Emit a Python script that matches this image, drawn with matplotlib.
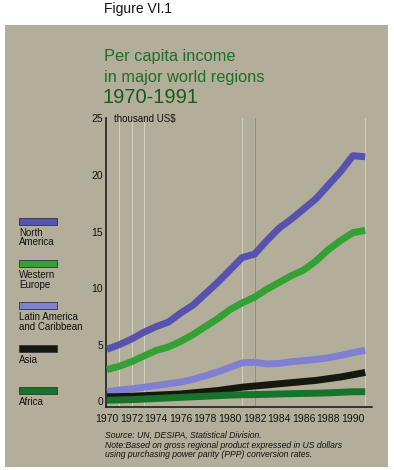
import matplotlib
matplotlib.use('Agg')
from matplotlib import pyplot as plt
from matplotlib.patches import Rectangle

plt.rcParams['font.family'] = ['Liberation Sans', 'DejaVu Sans']

# data (thousand US$, PPP)
years = list(range(1970, 1992))
north_america = [4.6, 5.0, 5.5, 6.1, 6.6, 7.0, 7.8, 8.5, 9.5, 10.5, 11.6,
                 12.7, 13.0, 14.2, 15.3, 16.1, 17.0, 17.9, 19.1, 20.3, 21.7, 21.6]
western_europe = [2.8, 3.1, 3.5, 4.0, 4.5, 4.8, 5.3, 5.9, 6.6, 7.3, 8.1,
                  8.7, 9.2, 9.9, 10.5, 11.1, 11.6, 12.4, 13.4, 14.2, 14.9, 15.1]
latin_america = [0.85, 1.0, 1.1, 1.25, 1.4, 1.55, 1.7, 1.95, 2.25, 2.6, 3.0,
                 3.4, 3.45, 3.3, 3.35, 3.5, 3.6, 3.7, 3.85, 4.05, 4.3, 4.5]
asia = [0.4, 0.42, 0.45, 0.5, 0.55, 0.6, 0.65, 0.75, 0.85, 0.95, 1.1,
        1.25, 1.35, 1.45, 1.55, 1.65, 1.75, 1.85, 2.0, 2.15, 2.35, 2.55]
africa = [0.1, 0.12, 0.15, 0.2, 0.25, 0.3, 0.35, 0.4, 0.45, 0.5, 0.55,
          0.58, 0.6, 0.62, 0.65, 0.68, 0.7, 0.72, 0.75, 0.8, 0.85, 0.85]

series = [north_america, western_europe, latin_america, asia, africa]
labels = ['North\nAmerica', 'Western\nEurope', 'Latin America\nand Caribbean', 'Asia', 'Africa']
colors = ['#5752b0', '#33a133', '#8080d2', '#15180f', '#16742a']
xticks = list(range(1970, 1991, 2))
yticks = [0, 5, 10, 15, 20, 25]

W, H = 394, 470
fig = plt.figure(figsize=(W / 100, H / 100), dpi=100)
fig.patch.set_facecolor('white')

# grey-khaki panel
fig.patches.append(Rectangle((5 / W, 3 / H), 383 / W, 442 / H, transform=fig.transFigure,
                             facecolor='#b3ae9a', edgecolor='none', zorder=-5))

fig.text(104 / W, 1 - 13.5 / H, 'Figure VI.1', fontsize=10, color='#111111', va='baseline')
fig.text(104 / W, 1 - 61 / H, 'Per capita income', fontsize=11.8, color='#1f6d2a',
         va='baseline')
fig.text(104 / W, 1 - 82 / H, 'in major world regions', fontsize=11.8, color='#1f6d2a',
         va='baseline')
fig.text(103 / W, 1 - 103 / H, '1970-1991', fontsize=14.5, color='#175a1e',
         va='baseline')

ax = fig.add_axes([105.7 / W, 63 / H, (372 - 105.7) / W, (407 - 118.3) / H])
ax.set_facecolor('none')
ax.set_zorder(1)

# faint vertical rules seen in the original
for yr in [1971, 1972, 1973, 1981, 1991]:
    ax.axvline(yr, color='#e8e6dc', lw=0.6, alpha=0.7, zorder=1)
ax.axvline(1982, color='#8f8a70', lw=0.6, zorder=1)

for vals, c in zip(series, colors):
    ax.plot(years, vals, color=c, lw=5, solid_capstyle='butt',
            solid_joinstyle='round', zorder=3)

ax.set_xlim(1969.9, 1991.55)
ax.set_ylim(-0.5, 25)
ax.set_xticks(xticks)
ax.set_yticks(yticks)
ax.set_xticklabels([str(t) for t in xticks], fontsize=7.5)
ax.set_yticklabels([str(t) for t in yticks], fontsize=7.5)
ax.tick_params(axis='x', length=0, pad=5, colors='#111111')
ax.tick_params(axis='y', length=0, pad=2, colors='#111111')
for s in ['top', 'right']:
    ax.spines[s].set_visible(False)
for s in ['left', 'bottom']:
    ax.spines[s].set_linewidth(1.1)
    ax.spines[s].set_color('#111111')
ax.text(114 / W, 1 - 121.7 / H, 'thousand US$', transform=fig.transFigure,
        fontsize=7, va='baseline', color='#111111')

# legend on the left
for i, (lab, c) in enumerate(zip(labels, colors)):
    top = 217.7 + i * 42.3
    fig.patches.append(Rectangle((19 / W, 1 - (top + 7) / H), 38 / W, 7 / H,
                                 transform=fig.transFigure, facecolor=c,
                                 edgecolor='#333344', lw=0.6, zorder=2))
    fig.text(19 / W, 1 - (top + 18) / H, lab.split('\n')[0], fontsize=7, va='baseline',
             color='#111111')
    if '\n' in lab:
        fig.text(19 / W, 1 - (top + 27.5) / H, lab.split('\n')[1], fontsize=7,
                 va='baseline', color='#111111')

fig.text(105 / W, 1 - 437.7 / H, 'Source: UN, DESIPA, Statistical Division.',
         fontsize=6.2, style='italic', va='baseline', color='#111111')
fig.text(105 / W, 1 - 448.3 / H, 'Note:Based on gross regional product expressed in US dollars',
         fontsize=6.2, style='italic', va='baseline', color='#111111')
fig.text(105 / W, 1 - 457.3 / H, 'using purchasing power parity (PPP) conversion rates.',
         fontsize=6.2, style='italic', va='baseline', color='#111111')

fig.savefig('out.png', dpi=100)
